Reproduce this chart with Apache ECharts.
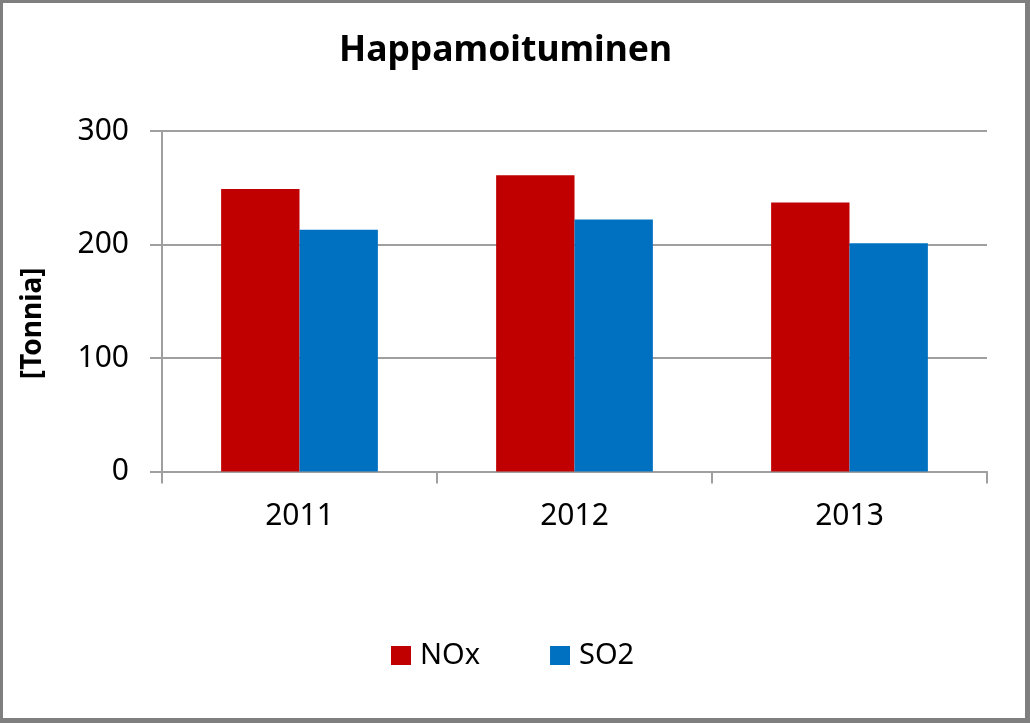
<!DOCTYPE html>
<html>
<head>
<meta charset="utf-8">
<script src="https://cdn.jsdelivr.net/npm/echarts@6/dist/echarts.min.js"></script>
<style>
html,body{margin:0;padding:0;background:#fff;}
#frame{position:absolute;left:0;top:0;width:1030px;height:723px;box-sizing:border-box;border:3px solid #7f7f7f;border-right-width:5px;border-bottom-width:5px;}
#chart{position:absolute;left:0;top:0;width:1030px;height:723px;}
</style>
</head>
<body>
<div id="chart"></div>
<div id="frame"></div>
<script>
var titleText = 'Happamoituminen';
var yAxisName = '[Tonnia]';
var categories = ['2011', '2012', '2013'];
var seriesNames = ['NOx', 'SO2'];
var noxValues = [249, 261, 237];
var so2Values = [213, 222, 201];
var yTicks = [0, 100, 200, 300];

var font = '"Noto Sans", "Open Sans", sans-serif';
var chart = echarts.init(document.getElementById('chart'), null, {renderer: 'canvas'});
chart.setOption({
  animation: false,
  backgroundColor: '#ffffff',
  title: {
    text: titleText,
    left: 334,
    top: 28,
    textStyle: {fontFamily: font, fontSize: 35.5, fontWeight: 'bold', color: '#000'}
  },
  legend: {
    data: seriesNames,
    left: 386,
    top: 636,
    itemWidth: 20,
    itemHeight: 19,
    itemGap: 70,
    icon: 'rect',
    textStyle: {fontFamily: font, fontSize: 29, color: '#000', padding: [0, 0, 0, 4]}
  },
  grid: {left: 162, right: 43, top: 131, bottom: 251.5, containLabel: false},
  xAxis: {
    type: 'category',
    data: categories,
    axisLine: {lineStyle: {color: '#9f9f9f', width: 2}},
    axisTick: {show: true, length: 12, alignWithLabel: false, lineStyle: {color: '#9f9f9f', width: 2}},
    axisLabel: {fontFamily: font, fontSize: 30, color: '#000', margin: 30}
  },
  yAxis: {
    type: 'value',
    min: yTicks[0],
    max: yTicks[yTicks.length - 1],
    interval: 100,
    name: yAxisName,
    nameLocation: 'middle',
    nameGap: 115,
    nameTextStyle: {fontFamily: font, fontSize: 28, fontWeight: 'bold', color: '#000', padding: [0, 44, 0, 0]},
    axisLine: {show: true, lineStyle: {color: '#9f9f9f', width: 2}},
    axisTick: {show: true, length: 12, lineStyle: {color: '#9f9f9f', width: 2}},
    splitLine: {show: true, lineStyle: {color: '#9f9f9f', width: 2}},
    axisLabel: {fontFamily: font, fontSize: 30, color: '#000', margin: 33}
  },
  series: [
    {name: seriesNames[0], type: 'bar', data: noxValues, barGap: '0%', barCategoryGap: '43%', itemStyle: {color: '#c00000'}},
    {name: seriesNames[1], type: 'bar', data: so2Values, barGap: '0%', barCategoryGap: '43%', itemStyle: {color: '#0070c0'}}
  ]
});
</script>
</body>
</html>
